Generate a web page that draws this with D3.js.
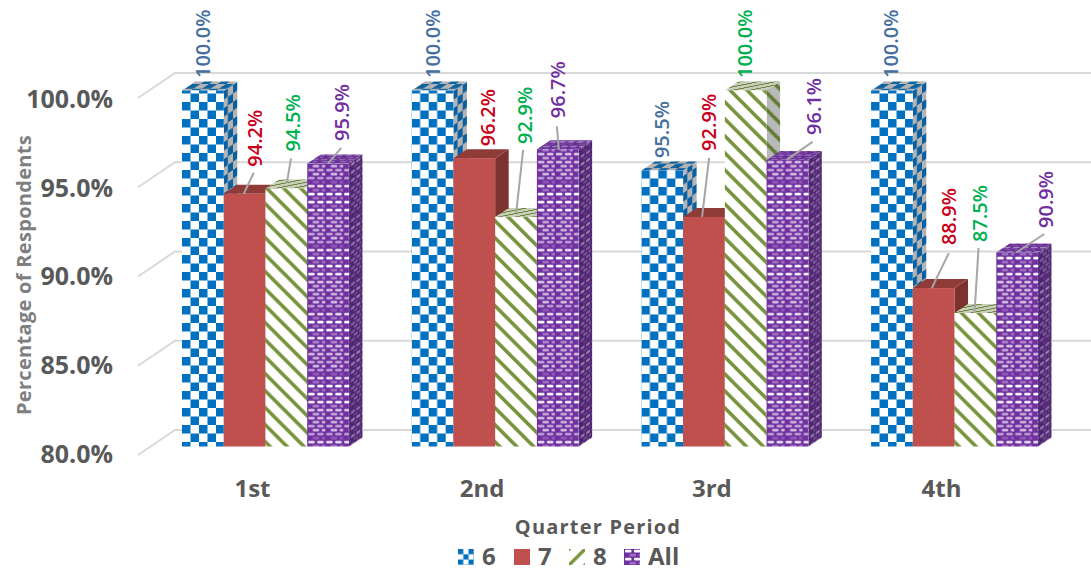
<!DOCTYPE html>
<html>
<head>
<meta charset="utf-8">
<script src="https://cdn.jsdelivr.net/npm/d3@7"></script>
<style>
  html, body { margin: 0; padding: 0; background: #fff; }
  svg { display: block; }
  text { font-family: "Open Sans", sans-serif; }
</style>
</head>
<body>
<div id="chart"></div>
<script>
// Respondent percentages per quarter, one array per series
const quarters = ["1st", "2nd", "3rd", "4th"];
const seriesNames = ["6", "7", "8", "All"];
const series6 = [100.0, 100.0, 95.5, 100.0];
const series7 = [94.2, 96.2, 92.9, 88.9];
const series8 = [94.5, 92.9, 100.0, 87.5];
const seriesAll = [95.9, 96.7, 96.1, 90.9];
const seriesValues = [series6, series7, series8, seriesAll];
const yTicks = [80, 85, 90, 95, 100];

// Hand-placed data labels: [centre from bar's left edge, baseline end from bar top]
const labelNudge = [
  [[21, -12.5], [21, -12.5], [20.5, -12.5], [20, -12.5]],
  [[31, -27], [34.5, -12], [26, -66], [36, -43]],
  [[27, -37], [30, -73], [20, -12.5], [25.5, -71]],
  [[35, -22.5], [21, -31], [47, -25], [50, -24.5]]
];
// Leader lines from label to bar, relative to the bar's left edge and top
const leaders = [
  [null, null, null, null],
  [[30, -21, 20, 0], null, [26, -59, 19, 0], [36, -35, 19, 0]],
  [[25.5, -30, 21.5, -6], [28, -67, 21, -4], null, [24, -65, 20, 0]],
  [[34, -15.5, 21, 0], [20, -23, 22, 1], [46, -18, 20, 0], [48, -18.5, 20, 0]]
];

const width = 1091, height = 568;
const depthX = 13.5, depthY = 9;
const wallX = 175, floorX = 138, floorDrop = 25;
const labelColors = ["#47709f", "#c9001a", "#00b050", "#7030a0"];
const inkBlue = "#0070c0", inkRed = "#c0504d", inkGreen = "#77933c", inkPurple = "#7030a0";

const svg = d3.select("#chart").append("svg")
  .attr("width", width).attr("height", height);
const defs = svg.append("defs");

// Tiled fills. Each fill comes as front, side and top variants, the last two sheared
// so the tile follows the faces of the extruded bar.
const sideShear = "matrix(.6,-.4,0,1,0,0)";
const topShear = "matrix(1,0,-.825,.55,0,0)";
const flatTopShear = "matrix(1,0,-2,.2,0,0)";

function addPattern(id, w, h, paper, paint, transform) {
  const p = defs.append("pattern").attr("id", id)
    .attr("patternUnits", "userSpaceOnUse")
    .attr("width", w).attr("height", h);
  if (transform) p.attr("patternTransform", transform);
  p.append("rect").attr("width", w).attr("height", h).attr("fill", paper);
  paint(p);
}
const checker = ink => p => {
  p.append("rect").attr("width", 8.5).attr("height", 8.5).attr("fill", ink);
  p.append("rect").attr("x", 8.5).attr("y", 8.5).attr("width", 8.5).attr("height", 8.5).attr("fill", ink);
};
const stripes = ink => p => {
  p.append("path").attr("d", "M-4,-4L21,21M-4,13L4,21M13,-4L21,4")
    .attr("stroke", ink).attr("stroke-width", 3.6).attr("fill", "none");
};
// Brick weave: staggered slots whose strength fades in and out over a long band
const weaveRows = [1, .3, .95, .3, .9, .4, .7, .55, .65, .6, .55, .65, .5, .2, .8, .3];
const weave = hole => p => {
  weaveRows.forEach((strength, r) => {
    const offset = r % 2 ? 4.5 : 0;
    [0, 9].forEach(x => {
      p.append("rect").attr("x", x + offset + 1).attr("y", r * 4 + .7)
        .attr("width", 6.5).attr("height", 2.7).attr("rx", 1)
        .attr("fill", hole).attr("opacity", strength);
    });
  });
};

addPattern("fill-0", 17, 17, "#fff", checker(inkBlue));
addPattern("fill-0-side", 17, 17, "#b4b4b4", checker("#0b5f9f"), sideShear);
addPattern("fill-0-top", 17, 17, "#b4b4b4", checker("#0f639f"), topShear);
addPattern("fill-2", 17, 17, "#fff", stripes(inkGreen));
addPattern("fill-2-side", 17, 17, "#b9b9b9", stripes("#5f7a30"), sideShear);
addPattern("fill-2-top", 17, 17, "#c9cebd", stripes("#6c8738"), flatTopShear);
addPattern("fill-3", 18, 64, inkPurple, weave("#fff"));
addPattern("fill-3-side", 18, 64, "#4d2272", weave("#9a86ad"), sideShear);
addPattern("fill-3-top", 18, 64, "#6a2e98", weave("#a58cbd"), topShear);
addPattern("key-0", 17, 17, "#fff", checker(inkBlue), "translate(458,549) scale(.62)");
addPattern("key-2", 17, 17, "#fff", stripes(inkGreen), "translate(569,549) rotate(90) scale(.95)");
addPattern("key-3", 18, 64, inkPurple, weave("#fff"), "translate(624,549)");

const frontFill = i => i === 1 ? inkRed : `url(#fill-${i})`;
const sideFill = i => i === 1 ? "#7c322f" : `url(#fill-${i}-side)`;
const topFill = i => i === 1 ? "#8f3b38" : `url(#fill-${i}-top)`;

// Scales: bars stand on the front plane, gridlines sit on the back wall
const yBar = d3.scaleLinear().domain([80, 100]).range([446.5, 90.5]);
const yWall = d3.scaleLinear().domain([80, 100]).range([430, 73]);
const yAxisScale = d3.scaleLinear().domain([80, 100]).range([454, 99.5]);
const x0 = d3.scaleBand().domain(quarters).range([182, 1038]).paddingInner(0.2731).paddingOuter(0);
const x1 = d3.scaleBand().domain(seriesNames).range([0, x0.bandwidth()]);

// Back wall gridlines with their diagonal run along the side wall
const grid = svg.append("g").attr("fill", "none").attr("stroke", "#d9d9d9").attr("stroke-width", 2);
grid.selectAll("path").data(yTicks).join("path")
  .attr("d", d => `M${floorX},${yWall(d) + floorDrop}L${wallX},${yWall(d)}L${width},${yWall(d)}`);

// Extruded bars, painted left to right so nearer neighbours cover side faces
const bars = [];
quarters.forEach((q, qi) => seriesNames.forEach((s, si) => {
  bars.push({ q, qi, s, si, v: seriesValues[si][qi] });
}));
const w = x1.bandwidth();
const base = yBar(80);

const barG = svg.append("g").selectAll("g").data(bars).join("g")
  .attr("transform", d => `translate(${x0(d.q) + x1(d.s)},0)`);

barG.append("path")
  .attr("d", d => {
    const t = yBar(d.v);
    return `M${w},${t}L${w + depthX},${t - depthY}L${w + depthX},${base - depthY}L${w},${base}Z`;
  })
  .attr("fill", d => sideFill(d.si));
barG.append("path")
  .attr("d", d => {
    const t = yBar(d.v);
    return `M0,${t}L${depthX},${t - depthY}L${w + depthX},${t - depthY}L${w},${t}Z`;
  })
  .attr("fill", d => topFill(d.si));
barG.append("rect")
  .attr("y", d => yBar(d.v))
  .attr("width", w)
  .attr("height", d => base - yBar(d.v))
  .attr("fill", d => frontFill(d.si));

// Leader lines and rotated value labels
const overlay = svg.append("g").selectAll("g").data(bars).join("g")
  .attr("transform", d => `translate(${x0(d.q) + x1(d.s)},${yBar(d.v)})`);

overlay.filter(d => leaders[d.si][d.qi]).append("line")
  .attr("x1", d => leaders[d.si][d.qi][0])
  .attr("y1", d => leaders[d.si][d.qi][1])
  .attr("x2", d => leaders[d.si][d.qi][2])
  .attr("y2", d => leaders[d.si][d.qi][3])
  .attr("stroke", "#a6a6a6").attr("stroke-width", 2);

overlay.append("text")
  .attr("transform", d => {
    const [dx, dy] = labelNudge[d.si][d.qi];
    return `translate(${dx},${dy}) rotate(-90)`;
  })
  .attr("dy", "0.36em")
  .attr("font-size", 20).attr("font-weight", 600)
  .attr("fill", d => labelColors[d.si])
  .text(d => d.v.toFixed(1) + "%");

// Axes
const yAxis = svg.append("g").attr("transform", "translate(113,0)")
  .call(d3.axisLeft(yAxisScale).tickValues(yTicks).tickSize(0).tickPadding(0)
    .tickFormat(d => d.toFixed(1) + "%"));
yAxis.select(".domain").remove();
yAxis.selectAll("text")
  .style("font-family", '"Open Sans", sans-serif')
  .attr("font-size", 25).attr("font-weight", 700).attr("fill", "#595959");

const xAxis = svg.append("g").attr("transform", "translate(-13,480)")
  .call(d3.axisBottom(x0).tickSize(0).tickPadding(0));
xAxis.select(".domain").remove();
xAxis.selectAll("text")
  .style("font-family", '"Open Sans", sans-serif')
  .attr("font-size", 24).attr("font-weight", 700).attr("fill", "#595959");

// Axis titles
svg.append("text")
  .attr("transform", "translate(24,275) rotate(-90)")
  .attr("text-anchor", "middle").attr("dy", "0.36em")
  .attr("font-size", 20).attr("font-weight", 700).attr("fill", "#7f7f7f")
  .style("letter-spacing", "0.3px")
  .text("Percentage of Respondents");
svg.append("text")
  .attr("x", 598).attr("y", 527)
  .attr("text-anchor", "middle").attr("dy", "0.36em")
  .attr("font-size", 20).attr("font-weight", 700).attr("fill", "#595959")
  .style("letter-spacing", "1.2px")
  .text("Quarter Period");

// Legend
const legendX = [458, 514, 569, 624];
const legendFill = [`url(#key-0)`, inkRed, `url(#key-2)`, `url(#key-3)`];
const legend = svg.append("g").selectAll("g").data(seriesNames).join("g");
legend.append("rect")
  .attr("x", (d, i) => legendX[i]).attr("y", 549)
  .attr("width", 16).attr("height", 16)
  .attr("fill", (d, i) => legendFill[i]);
legend.append("text")
  .attr("x", (d, i) => legendX[i] + 24).attr("y", 556)
  .attr("dy", "0.36em")
  .attr("font-size", 24).attr("font-weight", 700).attr("fill", "#595959")
  .text(d => d);
</script>
</body>
</html>
